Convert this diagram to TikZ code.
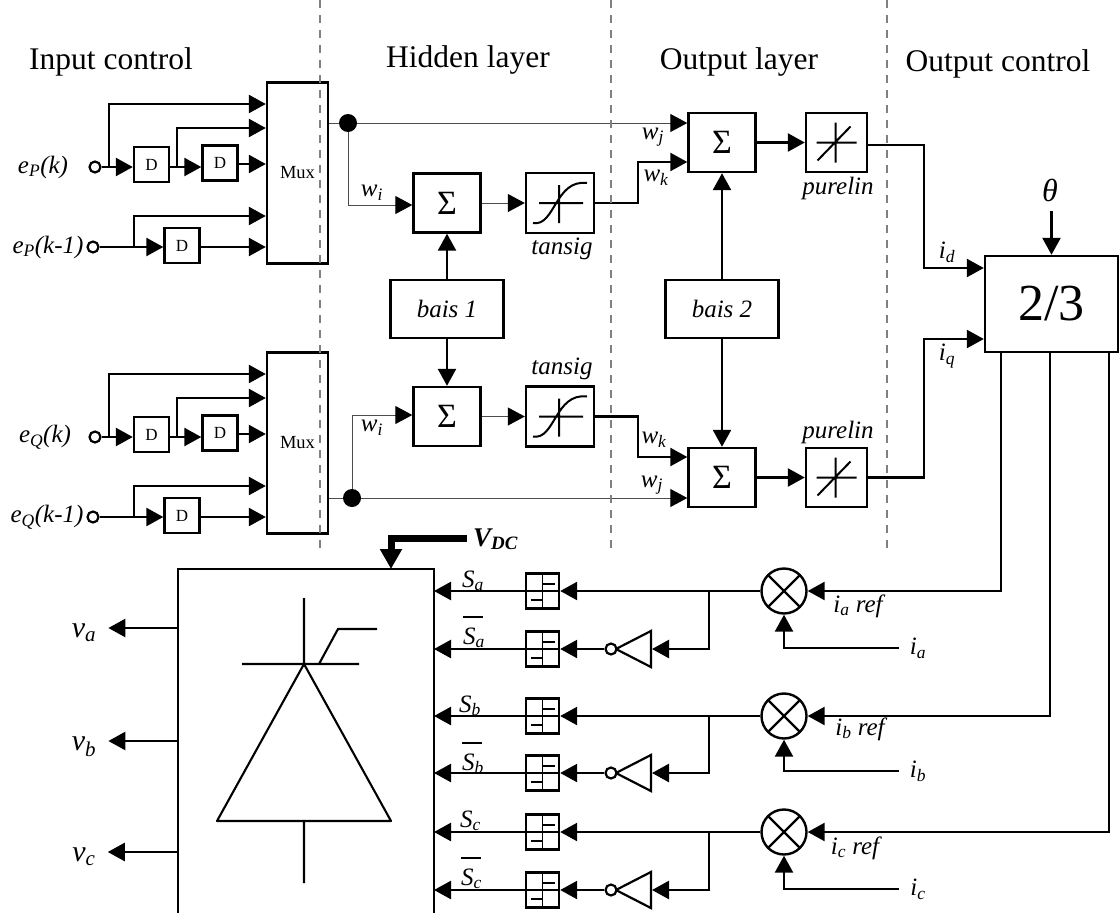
\documentclass[tikz,border=0pt]{standalone}
\usepackage{fontspec}
\setmainfont{Liberation Serif}
\usetikzlibrary{arrows.meta,shapes.geometric}
\newcommand{\fs}[1]{\fontsize{#1}{#1}\selectfont}

\begin{document}
\begin{tikzpicture}[
  x=1pt,y=-1pt,
  font=\fs{25}\itshape,
  box/.style={draw,line width=2.4pt,inner sep=0pt},
  dbox/.style={box,minimum width=35pt,minimum height=35pt,font=\fs{17}\upshape},
  muxbox/.style={box,minimum width=61pt,minimum height=181pt,font=\fs{18.5}\upshape},
  sumbox/.style={box,minimum width=67pt,minimum height=59pt,font=\fs{34}\upshape},
  baisbox/.style={box,minimum width=113pt,minimum height=58pt},
  tanbox/.style={box,minimum width=68pt,minimum height=60pt,path picture={
      \draw[line width=2pt,shift={(path picture bounding box.center)}]
        (-21,0) -- (23,0) (-1,-18) -- (-1,20)
        (-27,20) .. controls (-5,24) and (-5,-24) .. (27,-20);}},
  purbox/.style={box,minimum width=61pt,minimum height=59pt,path picture={
      \draw[line width=2pt,shift={(path picture bounding box.center)}]
        (-20,0) -- (20,0) (-1,-20) -- (-1,20) (-19,18) -- (14,-16);}},
  cmpbox/.style={box,minimum width=33pt,minimum height=35pt,path picture={
      \draw[line width=1.6pt,shift={(path picture bounding box.center)}]
        (-17,0) -- (17,0) (0,-18) -- (0,18) (0,-7) -- (12,-7) (-12,9) -- (0,9);}},
  mulnode/.style={draw,circle,line width=2.4pt,minimum size=45pt,inner sep=0pt,path picture={
      \draw[line width=2.2pt,shift={(path picture bounding box.center)}]
        (-16,-16) -- (16,16) (-16,16) -- (16,-16);}},
  notgate/.style={draw,line width=2.2pt,isosceles triangle,isosceles triangle stretches,
      shape border rotate=180,minimum width=36pt,minimum height=35pt,inner sep=0pt,anchor=lower side},
  term/.style={draw,circle,line width=2.2pt,fill=white,minimum size=11pt,inner sep=0pt},
  dot/.style={circle,fill=black,minimum size=18pt,inner sep=0pt},
  ln/.style={line width=2.5pt},
  ar/.style={ln,-{Triangle[length=17pt,width=18pt]}},
  thinw/.style={line width=1pt,black!70},
  thinar/.style={thinw,-{Triangle[length=17pt,width=18pt,color=black]}},
  sep/.style={line width=2.5pt,gray,dash pattern=on 8pt off 7pt}
]
\useasboundingbox (0,0) rectangle (1119,913);
% section titles
\node[font=\fs{31.5}\upshape] (ttl1) at (111,62) {Input control};
\node[font=\fs{31.5}\upshape] (ttl2) at (468,60) {Hidden layer};
\node[font=\fs{31.5}\upshape] (ttl3) at (739,62) {Output layer};
\node[font=\fs{31.5}\upshape] (ttl4) at (998,64) {Output control};
% input blocks
\foreach \i/\sh/\lb/\xa/\xb in {1/0/P/43/48,2/-270/Q/45/47}{
\begin{scope}[yshift=\sh pt]
\node[muxbox] (mux\i) at (297.5,173) {Mux};
\node[term] (ta\i) at (95,167) {};
\node[term] (tb\i) at (93,247) {};
\node[dbox] (da\i) at (151.5,164.5) {D};
\node[dbox] (db\i) at (220,163) {D};
\node[dbox] (dc\i) at (182,245.5) {D};
\node (ea\i) at (\xa,167) {e\textsubscript{\lb}(k)};
\node (eb\i) at (\xb,247) {e\textsubscript{\lb}(k-1)};
\draw[ar] (ta\i) -- (ta\i -| da\i.west);
\draw[ar] (da\i.east |- ta\i) -- (db\i.west |- ta\i);
\draw[ar] (db\i.east |- 0,164) -- (mux\i.west |- 0,164);
\draw[ar] (ta\i -| 109,0) |- (mux\i.west |- 0,104);
\draw[ar] (ta\i -| 177,0) |- (mux\i.west |- 0,128);
\draw[ar] (tb\i) -- (tb\i -| dc\i.west);
\draw[ar] (dc\i.east |- tb\i) -- (mux\i.west |- tb\i);
\draw[ar] (tb\i -| 134,0) |- (mux\i.west |- 0,216);
\end{scope}}
% hidden and output layers
\node[sumbox] (sum1) at (447,203) {Σ};
\node[sumbox] (sum2) at (447,416.5) {Σ};
\node[sumbox] (sum3) at (722,142.5) {Σ};
\node[sumbox] (sum4) at (722,477.5) {Σ};
\node[tanbox] (tan1) at (560,203) {};
\node[tanbox] (tan2) at (560,416.5) {};
\node[purbox] (pur1) at (836.5,142.5) {};
\node[purbox] (pur2) at (836.5,477.5) {};
\node[baisbox] (bais1) at (447,309) {bais 1};
\node[baisbox] (bais2) at (722,309) {bais 2};
\node[dot] (dot1) at (348,123) {};
\node[dot] (dot2) at (352,498) {};
\node (lbt1) at (562,249) {tansig};
\node (lbt2) at (562,369) {tansig};
\node (lbp1) at (838,188) {purelin};
\node (lbp2) at (838,432) {purelin};
\draw[thinw] (mux1.east |- dot1) -- (dot1);
\draw[thinw] (mux2.east |- dot2) -- (dot2);
\draw[thinar] (dot1) -- (sum3.west |- dot1);
\draw[thinar] (dot2) -- (sum4.west |- dot2);
\draw[thinar] (dot1) |- (sum1.west |- 0,205);
\draw[thinar] (dot2) |- (sum2.west |- 0,415);
\draw[thinar] (sum1) -- (tan1);
\draw[thinar] (sum2) -- (tan2);
\draw[ar] (bais1) -- (sum1);
\draw[ar] (bais1) -- (sum2);
\draw[ar] (bais2) -- (sum3);
\draw[ar] (bais2) -- (sum4);
\draw[ar] (tan1.east) -- ++(43,0) |- (sum3.west |- 0,162);
\draw[ar] (tan2.east) -- ++(43,0) |- (sum4.west |- 0,457);
\draw[ar] (sum3) -- (pur1);
\draw[ar] (sum4) -- (pur2);
\node (wi1) at (372,193) {w\textsubscript{i}};
\node (wi2) at (372,428) {w\textsubscript{i}};
\node (wj1) at (653,137) {w\textsubscript{j}};
\node (wk1) at (656,178) {w\textsubscript{k}};
\node (wk2) at (654,440) {w\textsubscript{k}};
\node (wj2) at (652,485) {w\textsubscript{j}};
% dq to abc block
\node[box,minimum width=133pt,minimum height=96pt,font=\fs{52}\upshape] (abc) at (1051.5,304) {2/3};
\node[font=\fs{32}\itshape] (th) at (1050,190) {θ};
\node (idl) at (947,252) {i\textsubscript{d}};
\node (iql) at (947,356) {i\textsubscript{q}};
\draw[ar] (abc.north |- 0,211) -- (abc.north);
\draw[ar] (pur1.east |- 0,145) -- ++(56,0) |- (abc.west |- 0,268);
\draw[ar] (pur2.east) -- ++(56,0) |- (abc.west |- 0,339);
% inverter
\coordinate (invnw) at (178,569);
\coordinate (invne) at (434,569);
\coordinate (apexp) at (304,664);
\draw[ln] (178,913) -- (invnw) -- (invne) -- (434,913);
\draw[line width=2.1pt,line join=round] (apexp) -- (217,821) -- (391,821) -- cycle;
\draw[line width=2.1pt] (304,598) -- (apexp) (242,664) -- (359,664) (319,664) -- (338,629) -- (377,629) (304,821) -- (304,883);
\node[font=\fs{27}\bfseries\itshape,anchor=base west,inner sep=0pt,inner xsep=6pt] (vdc) at (467,546) {V\textsubscript{DC}};
\draw[line width=7pt,-{Triangle[length=20pt,width=21pt]}] (vdc.west |- 0,538) -| (invnw -| 391,3);
\foreach \ph/\yv/\yl in {a/628/633,b/741/747,c/852/857}{
\node[font=\fs{30}\itshape,inner xsep=12pt] (v\ph) at (84,\yl) {v\textsubscript{\ph}};
\draw[ar] (invnw |- 0,\yv) -- (v\ph.east |- 0,\yv);
}
% gate drive rows
\foreach \ph/\yr/\yi/\xv/\yc/\xr/\yf/\xs/\ys/\xt/\yt in {
  a/591/649/1001/648/858/606/462/587/463/644,
  b/716/773/1050/771/860/729/459/712/462/770,
  c/832/890/1109/889/855/848/460/827/461/885}{
\node[mulnode] (mul\ph) at (784,\yr) {};
\node[cmpbox] (cmp\ph) at (542.5,\yr) {};
\node[cmpbox] (cmb\ph) at (542.5,\yi) {};
\node[notgate] (nt\ph) at (652,\yi) {};
\node[term] (bub\ph) at (611,\yi) {};
\node[inner xsep=11pt] (i\ph) at (918,\yc) {i\textsubscript{\ph}};
\node (ref\ph) at (\xr,\yf) {i\textsubscript{\ph}\ ref};
\node[anchor=base west,inner sep=0pt] (s\ph) at (\xs,\ys) {S\textsubscript{\ph}};
\node[anchor=base west,inner sep=0pt] (sb\ph) at (\xt,\yt) {\rlap{\rule[26pt]{20pt}{1.6pt}}S\textsubscript{\ph}};
\draw[ar] (abc.south -| \xv,0) |- (mul\ph);
\draw[ar] (i\ph.west) -| (mul\ph);
\draw[ar] (mul\ph) -- (cmp\ph);
\draw[ar] (cmp\ph) -- (invne |- cmp\ph);
\draw[ar] (709,\yr) |- (nt\ph.lower side);
\draw[ar] (bub\ph) -- (cmb\ph);
\draw[ar] (cmb\ph) -- (invne |- cmb\ph);
}
% separators
\foreach \x/\e in {320/548,611/548,887/550}
  \draw[sep] (\x,0) -- (\x,\e);
\end{tikzpicture}
\end{document}
